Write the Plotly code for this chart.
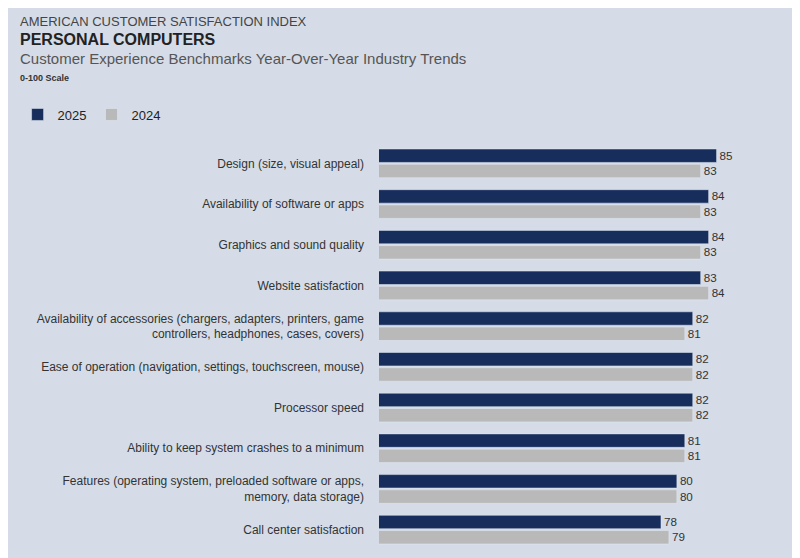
import plotly.graph_objects as go

categories = [
    "Design (size, visual appeal)",
    "Availability of software or apps",
    "Graphics and sound quality",
    "Website satisfaction",
    "Availability of accessories (chargers, adapters, printers, game<br>controllers, headphones, cases, covers)",
    "Ease of operation (navigation, settings, touchscreen, mouse)",
    "Processor speed",
    "Ability to keep system crashes to a minimum",
    "Features (operating system, preloaded software or apps,<br>memory, data storage)",
    "Call center satisfaction",
]
scores_2025 = [85, 84, 84, 83, 82, 82, 82, 81, 80, 78]
scores_2024 = [83, 83, 83, 84, 81, 82, 82, 81, 80, 79]

bg = "#d5dce7"
navy = "#172d5c"
grey = "#b9b9b9"
font = "Liberation Sans"

fig = go.Figure()
fig.add_trace(go.Bar(y=categories, x=scores_2025, name="2025", orientation="h",
                     marker_color=navy, text=scores_2025, textposition="outside",
                     cliponaxis=False, textfont=dict(size=13, color="#333")))
fig.add_trace(go.Bar(y=categories, x=scores_2024, name="2024", orientation="h",
                     marker_color=grey, text=scores_2024, textposition="outside",
                     cliponaxis=False, textfont=dict(size=13, color="#333")))

fig.update_layout(
    width=800, height=558,
    paper_bgcolor=bg, plot_bgcolor=bg,
    font=dict(family=font, size=12, color="#333"),
    barmode="group", bargap=0.25, bargroupgap=0.12,
    margin=dict(l=368, r=10, t=135, b=16),
    xaxis=dict(range=[42.5, 95.25], visible=False),
    yaxis=dict(autorange="reversed", showgrid=False, ticks="", ticklabelstandoff=14,
               tickfont=dict(size=12, color="#333")),
    legend=dict(orientation="h", x=-364 / 422, xanchor="left", y=1.07, yanchor="middle",
                font=dict(size=13, color="#222"), traceorder="normal",
                itemwidth=30, bgcolor="rgba(0,0,0,0)"),
    showlegend=True,
)

titles = [
    ("AMERICAN CUSTOMER SATISFACTION INDEX", 13, "#444", 21),
    ("<b>PERSONAL COMPUTERS</b>", 16, "#222", 39),
    ("Customer Experience Benchmarks Year-Over-Year Industry Trends", 15, "#555", 58),
    ("<b>0-100 Scale</b>", 9, "#333", 78),
]
for text, size, color, ypx in titles:
    fig.add_annotation(text=text, xref="paper", yref="paper",
                       x=-364 / 422, xanchor="left",
                       y=(550 - ypx) / 407, yanchor="middle",
                       showarrow=False, font=dict(size=size, color=color, family=font))

fig.write_html("out.html")
